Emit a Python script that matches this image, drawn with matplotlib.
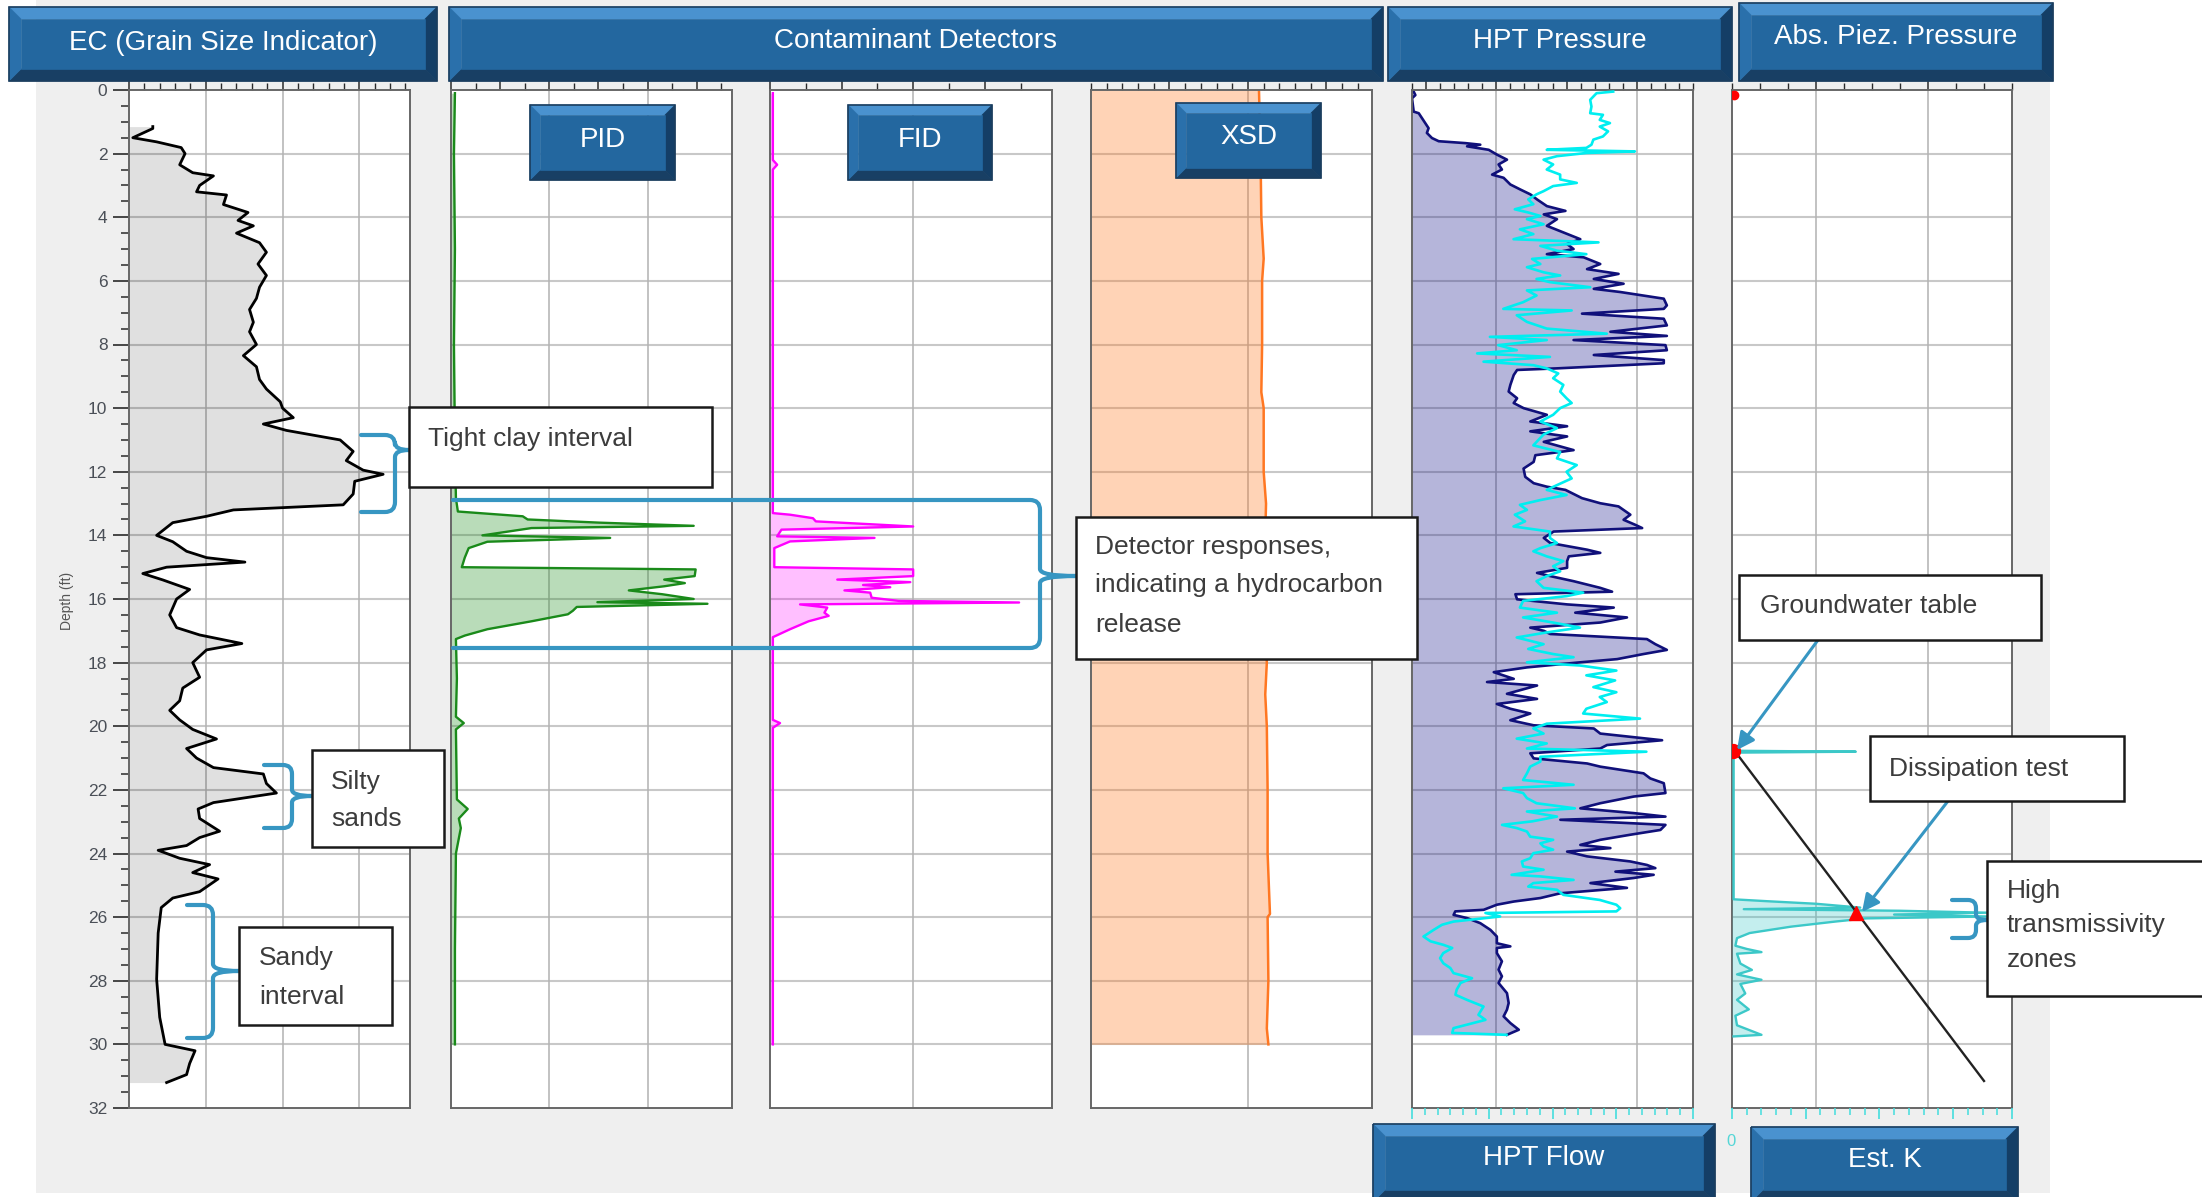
import numpy as np
import matplotlib
matplotlib.use("Agg")
import matplotlib.pyplot as plt
from matplotlib.patches import Rectangle, Polygon, PathPatch, FancyArrowPatch
from matplotlib.path import Path
from matplotlib.transforms import Affine2D
from matplotlib.ticker import FixedLocator, MultipleLocator

plt.rcParams['font.family'] = ['Liberation Sans', 'DejaVu Sans']

# ---------------- log data (depth in ft) ----------------
ec_depth = [1.15, 1.21, 1.50, 1.63, 1.81, 2.00, 2.35, 2.60, 2.70, 3.00,
            3.20, 3.30, 3.60, 3.85, 4.10, 4.27, 4.50, 4.80, 5.10, 5.47,
            5.83, 6.20, 6.55, 6.90, 7.30, 7.60, 8.00, 8.35, 8.70, 9.10,
            9.40, 9.80, 10.00, 10.30, 10.50, 10.70, 11.00, 11.36, 11.65, 11.95,
            12.08, 12.30, 12.70, 13.04, 13.20, 13.40, 13.60, 14.00, 14.20, 14.50,
            14.70, 14.84, 15.00, 15.20, 15.40, 15.70, 16.00, 16.50, 16.90, 17.13,
            17.40, 17.60, 18.00, 18.46, 18.80, 19.20, 19.50, 19.80, 20.10, 20.40,
            20.70, 21.00, 21.30, 21.50, 21.80, 22.10, 22.40, 22.60, 22.90, 23.30,
            23.50, 23.75, 23.90, 24.15, 24.35, 24.60, 24.80, 25.20, 25.40, 25.70,
            26.50, 27.95, 29.15, 30.00, 30.20, 30.60, 30.95, 31.20]
ec_value = [0.31, 0.31, 0.05, 0.36, 0.68, 0.73, 0.66, 0.83, 1.10, 0.92,
            0.88, 1.27, 1.23, 1.55, 1.42, 1.62, 1.40, 1.70, 1.79, 1.68,
            1.79, 1.70, 1.66, 1.57, 1.62, 1.57, 1.66, 1.49, 1.66, 1.70,
            1.79, 1.97, 2.00, 2.14, 1.75, 2.05, 2.75, 2.92, 2.83, 3.05,
            3.31, 2.94, 2.92, 2.79, 1.36, 1.01, 0.57, 0.36, 0.57, 0.75,
            1.01, 1.51, 0.49, 0.18, 0.44, 0.79, 0.62, 0.53, 0.62, 0.92,
            1.47, 1.01, 0.83, 0.92, 0.70, 0.66, 0.53, 0.66, 0.83, 1.14,
            0.75, 0.88, 1.10, 1.75, 1.79, 1.92, 1.10, 0.90, 0.92, 1.18,
            0.92, 0.75, 0.38, 0.66, 1.05, 0.83, 1.16, 0.92, 0.57, 0.42,
            0.38, 0.36, 0.40, 0.47, 0.86, 0.79, 0.75, 0.49]

pid_depth = [0.10, 2.00, 5.00, 8.00, 11.00, 12.83, 13.25, 13.40, 13.50, 13.60,
             13.70, 13.77, 14.00, 14.08, 14.20, 14.40, 14.70, 15.00, 15.07, 15.28,
             15.39, 15.50, 15.60, 15.73, 15.85, 16.00, 16.10, 16.15, 16.25, 16.37,
             16.48, 16.70, 16.95, 17.15, 17.26, 18.50, 19.70, 19.90, 20.10, 22.30,
             22.60, 22.90, 23.20, 24.00, 27.00, 30.00]
pid_value = [0.04, 0.03, 0.04, 0.03, 0.04, 0.05, 0.07, 0.73, 0.78, 1.51,
             2.47, 0.82, 0.32, 1.62, 0.37, 0.18, 0.14, 0.11, 2.49, 2.48,
             2.17, 2.38, 2.17, 1.81, 2.15, 2.47, 1.49, 2.61, 1.28, 1.24,
             1.19, 0.82, 0.37, 0.14, 0.05, 0.06, 0.05, 0.13, 0.05, 0.06,
             0.17, 0.08, 0.10, 0.05, 0.04, 0.04]

fid_depth = [0.10, 2.20, 2.35, 2.50, 8.00, 13.30, 13.35, 13.46, 13.56, 13.72,
             13.82, 14.03, 14.08, 14.19, 14.40, 15.00, 15.07, 15.28, 15.39, 15.47,
             15.56, 15.63, 15.73, 15.80, 15.96, 16.06, 16.11, 16.17, 16.27, 16.43,
             16.53, 16.70, 16.95, 17.20, 19.80, 19.90, 20.05, 30.00]
fid_value = [0.02, 0.02, 0.05, 0.02, 0.02, 0.02, 0.14, 0.30, 0.32, 1.00,
             0.08, 0.05, 0.73, 0.14, 0.03, 0.03, 1.00, 1.00, 0.47, 0.98,
             0.65, 0.84, 0.52, 0.70, 0.71, 0.90, 1.74, 0.21, 0.40, 0.38,
             0.41, 0.27, 0.14, 0.02, 0.02, 0.07, 0.02, 0.02]

xsd_depth = [0.0, 2.0, 4.0, 5.3, 6.0, 8.0, 9.5, 10.0, 12.0, 13.0, 14.0,
             16.0, 18.0, 19.0, 20.0, 22.0, 24.0, 25.9, 26.0, 28.0, 29.5, 30.0]
xsd_value = [1.07, 1.08, 1.085, 1.10, 1.09, 1.09, 1.085, 1.10, 1.10, 1.115, 1.11,
             1.11, 1.12, 1.11, 1.12, 1.125, 1.125, 1.14, 1.125, 1.13, 1.12, 1.13]

hpt_p_depth = [0.05, 0.16, 0.26, 0.68, 0.73, 0.89, 1.04, 1.20, 1.35, 1.51,
               1.61, 1.67, 1.72, 1.77, 1.88, 2.03, 2.19, 2.34, 2.50, 2.66,
               2.76, 2.97, 3.13, 3.28, 3.44, 3.65, 3.80, 3.91, 4.06, 4.27,
               4.48, 4.69, 4.84, 5.00, 5.16, 5.26, 5.47, 5.63, 5.78, 5.94,
               6.09, 6.25, 6.35, 6.56, 6.77, 6.88, 7.03, 7.19, 7.40, 7.60,
               7.73, 7.86, 8.02, 8.18, 8.33, 8.49, 8.59, 8.75, 8.80, 8.96,
               9.27, 9.48, 9.69, 9.84, 10.00, 10.21, 10.42, 10.57, 10.73, 10.89,
               11.06, 11.32, 11.48, 11.69, 11.90, 12.16, 12.36, 12.47, 12.57, 12.83,
               12.99, 13.09, 13.35, 13.51, 13.67, 13.77, 13.88, 14.08, 14.24, 14.45,
               14.55, 14.66, 14.81, 15.02, 15.18, 15.28, 15.44, 15.65, 15.77, 15.85,
               16.01, 16.17, 16.27, 16.43, 16.58, 16.74, 16.90, 17.00, 17.10, 17.26,
               17.42, 17.60, 17.73, 17.89, 17.99, 18.15, 18.30, 18.51, 18.61, 18.72,
               18.98, 19.14, 19.30, 19.45, 19.60, 19.81, 19.97, 20.07, 20.23, 20.44,
               20.59, 20.70, 20.85, 21.01, 21.17, 21.27, 21.48, 21.64, 21.79, 22.10,
               22.21, 22.42, 22.58, 22.73, 22.84, 22.94, 23.10, 23.26, 23.41, 23.57,
               23.73, 23.83, 23.94, 24.09, 24.25, 24.36, 24.46, 24.57, 24.67, 24.77,
               24.93, 25.08, 25.25, 25.40, 25.51, 25.61, 25.77, 25.82, 25.93, 26.03,
               26.19, 26.40, 26.61, 26.82, 26.92, 26.97, 27.13, 27.39, 27.65, 27.86,
               28.07, 28.39, 28.70, 28.91, 29.12, 29.33, 29.54, 29.70]
hpt_p_value = [0.6, 1.2, 0.0, 0.6, 2.4, 3.6, 4.7, 5.9, 5.3, 7.1,
               9.5, 19.0, 24.3, 19.6, 27.3, 30.2, 33.8, 30.8, 32.0, 28.5,
               32.6, 35.0, 38.6, 42.1, 44.5, 48.0, 54.6, 46.9, 51.6, 48.0,
               54.0, 59.9, 55.2, 57.5, 48.0, 61.1, 67.0, 62.3, 73.5, 64.7,
               75.3, 64.7, 74.1, 89.6, 90.7, 89.6, 60.5, 89.6, 90.7, 70.6,
               90.7, 57.5, 90.2, 90.7, 64.7, 89.6, 89.6, 51.6, 37.4, 36.2,
               35.0, 34.4, 37.4, 36.2, 39.7, 48.0, 42.1, 55.2, 42.1, 55.2,
               46.9, 57.5, 43.9, 43.3, 39.7, 40.3, 43.3, 48.0, 54.6, 60.5,
               67.0, 73.5, 77.7, 75.3, 79.5, 81.9, 50.4, 46.9, 49.2, 62.3,
               67.0, 55.8, 55.2, 55.2, 44.5, 49.2, 57.5, 67.0, 71.2, 36.8,
               37.4, 55.2, 71.8, 58.1, 76.5, 67.0, 42.1, 46.9, 49.2, 83.6,
               86.6, 90.7, 82.4, 73.0, 59.9, 40.9, 29.1, 36.2, 26.7, 44.5,
               33.8, 44.5, 30.2, 35.0, 42.1, 35.0, 43.3, 64.7, 67.0, 89.0,
               69.4, 67.0, 42.1, 43.3, 62.3, 67.0, 82.4, 84.8, 89.6, 90.2,
               78.9, 67.0, 59.9, 78.9, 90.2, 52.8, 90.2, 88.4, 77.7, 67.0,
               59.9, 70.6, 55.2, 62.3, 77.7, 83.6, 86.6, 72.4, 86.0, 78.9,
               63.5, 76.5, 52.8, 45.7, 36.2, 30.2, 25.5, 15.4, 14.8, 19.6,
               24.3, 27.9, 30.2, 30.2, 35.0, 30.2, 30.2, 32.0, 30.8, 32.0,
               30.8, 33.8, 34.4, 33.8, 32.6, 35.0, 38.0, 33.8]

hpt_f_depth = [0.05, 0.10, 0.31, 0.52, 0.73, 0.78, 0.94, 1.04, 1.15, 1.30,
               1.46, 1.56, 1.72, 1.82, 1.88, 1.93, 1.98, 2.08, 2.19, 2.34,
               2.50, 2.66, 2.81, 2.92, 3.02, 3.18, 3.28, 3.44, 3.59, 3.75,
               3.85, 3.96, 4.06, 4.22, 4.38, 4.53, 4.69, 4.79, 4.90, 5.05,
               5.16, 5.31, 5.47, 5.57, 5.73, 5.83, 5.94, 6.04, 6.20, 6.30,
               6.46, 6.67, 6.88, 6.93, 7.08, 7.29, 7.50, 7.66, 7.76, 7.86,
               8.02, 8.18, 8.28, 8.39, 8.54, 8.65, 8.75, 8.91, 9.06, 9.27,
               9.48, 9.69, 9.84, 10.00, 10.21, 10.42, 10.63, 10.83, 11.17, 11.38,
               11.58, 11.79, 12.00, 12.21, 12.42, 12.57, 12.73, 12.89, 13.04, 13.20,
               13.35, 13.56, 13.72, 13.88, 14.08, 14.24, 14.40, 14.50, 14.66, 14.81,
               14.97, 15.13, 15.28, 15.44, 15.65, 15.80, 15.91, 16.06, 16.27, 16.43,
               16.58, 16.74, 16.90, 17.05, 17.21, 17.42, 17.57, 17.73, 17.83, 17.99,
               18.09, 18.25, 18.40, 18.56, 18.77, 18.93, 19.08, 19.24, 19.45, 19.60,
               19.76, 19.92, 20.07, 20.23, 20.39, 20.54, 20.70, 20.80, 20.96, 21.11,
               21.27, 21.48, 21.69, 21.84, 21.95, 22.10, 22.26, 22.42, 22.58, 22.68,
               22.84, 22.99, 23.10, 23.20, 23.31, 23.47, 23.57, 23.68, 23.78, 23.88,
               23.99, 24.15, 24.25, 24.41, 24.51, 24.67, 24.72, 24.83, 24.93, 25.04,
               25.14, 25.30, 25.46, 25.61, 25.72, 25.82, 25.87, 25.98, 26.14, 26.24,
               26.40, 26.61, 26.76, 26.87, 26.97, 27.13, 27.29, 27.45, 27.60, 27.76,
               27.92, 28.07, 28.28, 28.44, 28.60, 28.81, 28.91, 29.07, 29.23, 29.33,
               29.49, 29.64, 29.70]
hpt_f_value = [31.5, 28.9, 27.9, 28.1, 27.9, 29.9, 29.4, 31.0, 29.4, 30.7,
               29.9, 28.4, 28.1, 27.3, 21.1, 34.9, 27.3, 22.7, 20.6, 22.1,
               21.1, 23.2, 23.2, 25.8, 22.1, 20.6, 19.5, 18.2, 19.0, 16.1,
               18.2, 20.1, 18.0, 20.6, 16.9, 19.0, 15.9, 29.2, 20.1, 22.7,
               27.3, 18.8, 20.1, 18.0, 20.6, 23.2, 19.5, 21.6, 27.9, 18.0,
               19.5, 17.4, 14.3, 25.0, 16.4, 18.0, 21.1, 30.5, 12.2, 21.1,
               13.5, 16.4, 10.2, 21.6, 11.2, 19.0, 21.1, 22.9, 22.1, 23.7,
               23.2, 24.2, 25.0, 23.2, 22.1, 20.1, 22.7, 20.6, 19.0, 23.2,
               22.7, 25.8, 24.2, 25.0, 22.7, 21.1, 24.2, 20.1, 16.9, 18.0,
               16.1, 17.7, 15.9, 21.6, 21.6, 22.7, 20.1, 19.0, 21.1, 23.7,
               22.1, 23.2, 21.1, 19.5, 20.6, 26.8, 24.2, 17.4, 16.9, 22.7,
               17.4, 22.1, 26.3, 21.1, 16.4, 20.6, 18.2, 22.1, 25.3, 18.0,
               26.3, 32.0, 27.3, 31.8, 28.4, 32.0, 29.4, 30.5, 27.3, 26.8,
               35.7, 21.1, 19.0, 20.6, 16.4, 21.1, 18.0, 36.7, 20.1, 20.1,
               18.5, 18.0, 17.4, 25.3, 14.3, 17.4, 18.0, 19.5, 25.5, 18.0,
               22.7, 18.8, 14.1, 16.4, 18.0, 18.5, 22.1, 20.1, 20.6, 22.1,
               19.0, 18.5, 17.2, 17.4, 20.6, 15.6, 20.1, 25.3, 19.0, 18.2,
               22.7, 23.7, 29.4, 32.0, 32.6, 32.0, 11.5, 13.8, 6.5, 4.7,
               3.4, 1.8, 2.9, 4.9, 6.3, 4.9, 4.4, 4.9, 6.0, 6.5,
               9.4, 7.6, 7.0, 6.8, 8.6, 11.2, 10.9, 10.4, 11.5, 9.6,
               6.5, 6.3, 14.8]

k_depth = [20.77, 20.80, 20.83, 25.44, 25.50, 25.58, 25.70, 25.75, 25.80, 25.86,
           25.92, 25.98, 26.04, 26.14, 26.30, 26.50, 26.66, 26.90, 27.00, 27.10,
           27.15, 27.46, 27.66, 27.80, 27.97, 28.10, 28.40, 28.60, 28.90, 29.10,
           29.40, 29.70, 29.75]
k_value = [0.011, 0.84, 0.011, 0.011, 0.24, 0.57, 0.87, 0.08, 1.14, 1.73,
           1.10, 1.73, 0.91, 0.70, 0.40, 0.12, 0.034, 0.023, 0.10, 0.20,
           0.034, 0.057, 0.135, 0.034, 0.20, 0.057, 0.09, 0.034, 0.114, 0.023,
           0.034, 0.20, 0.011]

piez_depth = [20.78, 31.15]
piez_value = [1.0, 90.0]
gw_depth, gw_value = 20.78, 0.5
diss_depth, diss_value = 25.86, 44.4
top_mark_depth, top_mark_value = 0.15, 0.8

# ---------------- figure & helpers ----------------
W, H = 2202, 1197
fig = plt.figure(figsize=(W / 100, H / 100), dpi=100)
fig.patch.set_facecolor('white')
PX = Affine2D().scale(1.0 / W, -1.0 / H).translate(0, 1) + fig.transFigure

fig.add_artist(Rectangle((36, 0), 2014, 1193, transform=PX, facecolor='#efefef',
                         edgecolor='none', zorder=-10))

TOP, BOT = 90, 1108


def add_track(x0, x1):
    return fig.add_axes([x0 / W, 1 - BOT / H, (x1 - x0) / W, (BOT - TOP) / H])


def style_track(ax, xlim, xgrid, major, minor):
    ax.set_xlim(*xlim)
    ax.set_ylim(32, 0)
    ax.set_facecolor('white')
    for d in range(2, 32, 2):
        ax.axhline(d, color='#c8c8c8', lw=1.5, zorder=0.5)
    for g in xgrid:
        ax.axvline(g, color='#b2b2b2', lw=1.1, zorder=0.5)
    ax.xaxis.tick_top()
    ax.xaxis.set_major_locator(FixedLocator(major))
    ax.xaxis.set_minor_locator(FixedLocator(minor))
    ax.tick_params(axis='x', which='major', direction='out', length=6.5, width=1.1,
                   color='#2a2a2a', labeltop=False, labelbottom=False)
    ax.tick_params(axis='x', which='minor', direction='out', length=5, width=1.0,
                   color='#2a2a2a')
    ax.tick_params(axis='y', which='both', left=False, right=False,
                   labelleft=False, labelright=False)
    for s in ax.spines.values():
        s.set_color('#676767')
        s.set_linewidth(1.4)


def bottom_ticks(ax, xlim, major, minor, color='#44dede'):
    ax.set_xlim(*xlim)
    ax.xaxis.tick_bottom()
    ax.xaxis.set_major_locator(FixedLocator(major))
    ax.xaxis.set_minor_locator(FixedLocator(minor))
    ax.tick_params(axis='x', which='major', direction='out', length=8, width=1.2,
                   color=color, labelbottom=False, labeltop=False)
    ax.tick_params(axis='x', which='minor', direction='out', length=5, width=1.1,
                   color=color)
    for s in ax.spines.values():
        s.set_visible(False)


# ---------------- EC track ----------------
ax_ec = add_track(129, 410)
style_track(ax_ec, (0, 3.66), [1, 2, 3], [0, 1, 2, 3], np.arange(0, 3.7, 0.2))
ax_ec.fill_betweenx(ec_depth, 0, ec_value, color='black', alpha=0.12, lw=0, zorder=1)
ax_ec.plot(ec_value, ec_depth, color='black', lw=2.0, zorder=2)
ax_ec.yaxis.set_major_locator(MultipleLocator(2))
ax_ec.yaxis.set_minor_locator(MultipleLocator(0.5))
ax_ec.tick_params(axis='y', which='major', left=True, labelleft=True, length=11.5,
                  width=1.2, color='#2a2a2a', labelsize=12.5, labelcolor='#4a4f57', pad=4)
ax_ec.tick_params(axis='y', which='minor', left=True, length=5.5, width=1.1,
                  color='#2a2a2a')
ax_ec.set_ylim(32, 0)
fig.text(67 / W, 1 - 601 / H, 'Depth (ft)', rotation=90, ha='center', va='center',
         fontsize=10, color='#555555')

# ---------------- PID / FID / XSD ----------------
ax_pid = add_track(451, 732)
style_track(ax_pid, (0, 2.86), [1, 2], np.arange(0, 2.9, 0.5), np.arange(0, 2.9, 0.25))
ax_pid.fill_betweenx(pid_depth, 0, pid_value, color='#1a8c1a', alpha=0.3, lw=0, zorder=1)
ax_pid.plot(pid_value, pid_depth, color='#1a8a1a', lw=1.7, zorder=2)

ax_fid = add_track(770, 1052)
style_track(ax_fid, (0, 1.97), [1], np.arange(0, 2.0, 0.5), np.arange(0, 2.0, 0.25))
ax_fid.fill_betweenx(fid_depth, 0, fid_value, color='#ff00ff', alpha=0.25, lw=0, zorder=1)
ax_fid.plot(fid_value, fid_depth, color='#ff00ff', lw=1.7, zorder=2)

ax_xsd = add_track(1091, 1372)
style_track(ax_xsd, (0, 1.79), [1], [0.5, 1.0, 1.5], np.arange(0, 1.8, 0.1))
ax_xsd.fill_betweenx(xsd_depth, 0, xsd_value, color='#ff7a22', alpha=0.33, lw=0, zorder=1)
ax_xsd.plot(xsd_value, xsd_depth, color='#ff7722', lw=1.8, zorder=2)

# ---------------- HPT pressure / flow ----------------
ax_hpt = add_track(1412, 1693)
ax_flow = ax_hpt.twiny()
style_track(ax_hpt, (0, 100), [30, 80], [5, 30, 55, 80], np.arange(0, 101, 5))
ax_hpt.fill_betweenx(hpt_p_depth, 0, hpt_p_value, color='#1a1a8c', alpha=0.32, lw=0, zorder=1)
ax_hpt.plot(hpt_p_value, hpt_p_depth, color='#10107a', lw=1.9, zorder=2)
bottom_ticks(ax_flow, (0, 44), [0, 12, 22, 32, 44], np.arange(0, 45, 2))
ax_flow.plot(hpt_f_value, hpt_f_depth, color='#00eef0', lw=1.9, zorder=3)
ax_flow.set_ylim(32, 0)

# ---------------- Abs. piezometric pressure / Est. K ----------------
ax_abs = add_track(1732, 2012)
ax_k = ax_abs.twiny()
style_track(ax_abs, (0, 100), [30, 70], [30, 70], np.arange(0, 101, 10))
bottom_ticks(ax_k, (0, 1.9), [0, 0.5, 1.0, 1.5, 1.9], np.arange(0, 1.91, 0.1))
ax_k.fill_betweenx(k_depth, 0, k_value, color='#3cc8c8', alpha=0.3, lw=0, zorder=1)
ax_k.plot(k_value, k_depth, color='#3cc8c8', lw=1.7, zorder=2)
ax_k.plot(piez_value, piez_depth, color='#222222', lw=1.7, zorder=3,
          transform=ax_abs.transData)
ax_k.plot([gw_value], [gw_depth], marker='o', ms=10, color='#ff0000', zorder=4,
          transform=ax_abs.transData)
ax_k.plot([diss_value], [diss_depth], marker='^', ms=10, color='#ff0000', zorder=4,
          transform=ax_abs.transData)
ax_k.plot([top_mark_value], [top_mark_depth], marker='o', ms=6, color='#ff0000',
          zorder=4, transform=ax_abs.transData)
ax_k.set_ylim(32, 0)
fig.text(1731 / W, 1 - 1141 / H, '0', ha='center', va='center', fontsize=12,
         color='#55d6d6')

for a in (ax_hpt, ax_abs):
    a.xaxis.tick_top()
    a.tick_params(axis='x', which='both', labeltop=False, labelbottom=False)


# ---------------- header boxes ----------------
def bevel_box(x0, y0, x1, y1, label, baseline, b=12, fs=20):
    o = [(x0, y0), (x1, y0), (x1, y1), (x0, y1)]
    i = [(x0 + b, y0 + b), (x1 - b, y0 + b), (x1 - b, y1 - b), (x0 + b, y1 - b)]
    faces = [([o[0], o[1], i[1], i[0]], '#4a92cf'),
             ([o[1], o[2], i[2], i[1]], '#143e66'),
             ([o[2], o[3], i[3], i[2]], '#183f64'),
             ([o[3], o[0], i[0], i[3]], '#2a70ab'),
             (i, '#23679f')]
    for pts, c in faces:
        fig.add_artist(Polygon(pts, closed=True, transform=PX, facecolor=c,
                               edgecolor=c, lw=0.5, zorder=5))
    fig.add_artist(Polygon(o, closed=True, transform=PX, facecolor='none',
                           edgecolor='#1b3d5e', lw=1.2, zorder=5))
    fig.text((x0 + x1) / 2 / W, 1 - baseline / H, label, ha='center', va='baseline',
             color='white', fontsize=fs, zorder=6)


bevel_box(9, 7, 437, 81, 'EC (Grain Size Indicator)', 50)
bevel_box(449, 7, 1383, 81, 'Contaminant Detectors', 48)
bevel_box(1388, 7, 1732, 81, 'HPT Pressure', 48)
bevel_box(1739, 3, 2053, 81, 'Abs. Piez. Pressure', 44)
bevel_box(530, 105, 675, 180, 'PID', 147, b=10)
bevel_box(848, 105, 992, 180, 'FID', 147, b=10)
bevel_box(1176, 103, 1321, 178, 'XSD', 144, b=10)
bevel_box(1373, 1124, 1715, 1202, 'HPT Flow', 1165)
bevel_box(1751, 1127, 2018, 1202, 'Est. K', 1167)


# ---------------- callouts ----------------
BLUE = '#3796c2'


def callout(x0, y0, x1, y1, lines):
    fig.add_artist(Rectangle((x0, y0), x1 - x0, y1 - y0, transform=PX, facecolor='white',
                             edgecolor='#1a1a1a', lw=1.8, zorder=7))
    for x, yb, s in lines:
        fig.text(x / W, 1 - yb / H, s, ha='left', va='baseline', fontsize=19,
                 color='#3c3c3c', zorder=8)


def brace(xs, yt, yb, xm, xt, yc, r=9):
    verts = [(xs, yt), (xm - r, yt), (xm, yt), (xm, yt + r),
             (xm, yc - r * 0.7), (xm, yc), (xt, yc),
             (xm, yc), (xm, yc + r * 0.7),
             (xm, yb - r), (xm, yb), (xm - r, yb), (xs, yb)]
    codes = [Path.MOVETO, Path.LINETO, Path.CURVE3, Path.CURVE3,
             Path.LINETO, Path.CURVE3, Path.CURVE3,
             Path.CURVE3, Path.CURVE3,
             Path.LINETO, Path.CURVE3, Path.CURVE3, Path.LINETO]
    fig.add_artist(PathPatch(Path(verts, codes), transform=PX, facecolor='none',
                             edgecolor=BLUE, lw=3, capstyle='round',
                             joinstyle='round', zorder=6))


callout(409, 407, 712, 487, [(428, 446, 'Tight clay interval')])
brace(361, 435, 512, 395, 409, 450, r=10)

callout(312, 750, 444, 847, [(331, 789, 'Silty'), (331, 826, 'sands')])
brace(264, 765, 828, 292, 312, 796, r=9)

callout(239, 927, 392, 1025, [(259, 965, 'Sandy'), (259, 1004, 'interval')])
brace(187, 905, 1038, 213, 239, 971, r=10)

callout(1076, 517, 1417, 659, [(1095, 554, 'Detector responses,'),
                               (1095, 592, 'indicating a hydrocarbon'),
                               (1095, 632, 'release')])
brace(453, 500, 648, 1040, 1076, 576, r=10)

callout(1739, 575, 2041, 640, [(1760, 613, 'Groundwater table')])
callout(1870, 736, 2124, 801, [(1889, 776, 'Dissipation test')])
callout(1987, 861, 2240, 996, [(2007, 898, 'High'), (2007, 932, 'transmissivity'),
                               (2007, 967, 'zones')])
brace(1952, 900, 938, 1976, 1987, 920, r=8)

for a, b in [((1818, 640), (1737, 750)), ((1948, 801), (1862, 912))]:
    fig.add_artist(FancyArrowPatch(a, b, transform=PX, arrowstyle='-|>',
                                   mutation_scale=26, lw=2.2, color=BLUE,
                                   shrinkA=0, shrinkB=0, zorder=6))

fig.savefig('out.png', dpi=100, facecolor='white')
